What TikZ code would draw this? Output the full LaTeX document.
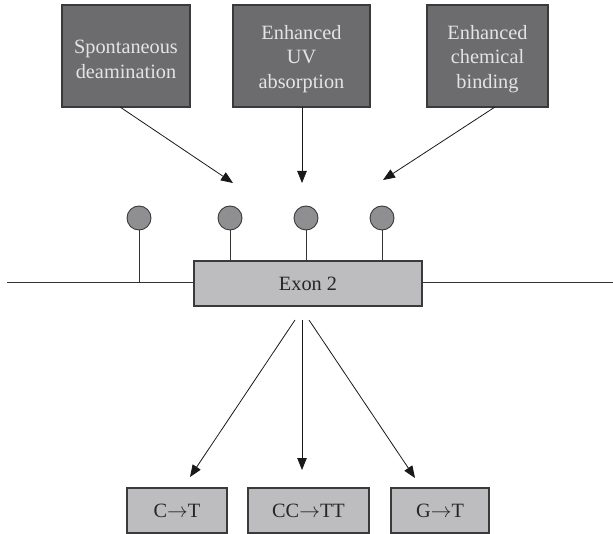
\documentclass[tikz,border=0pt]{standalone}
\usepackage{fontspec}
\setmainfont{Liberation Serif}
\usetikzlibrary{arrows.meta}
\definecolor{causefill}{HTML}{6C6C6F}
\definecolor{causetext}{HTML}{E4E4E4}
\definecolor{boxfill}{HTML}{BDBDBF}
\definecolor{edgegray}{HTML}{3A3A3C}
\definecolor{siteball}{HTML}{8F8F91}
\newcommand{\mutto}{\ensuremath{\rightarrow}}
\begin{document}
\begin{tikzpicture}[x=1pt,y=-1pt,
  every node/.style={font=\fontsize{20.3}{24.5}\selectfont, inner sep=0pt, outer sep=0pt},
  causebox/.style={draw=edgegray, line width=1.2pt, fill=causefill, minimum height=102pt},
  causetxt/.style={text=causetext, align=center},
  genebox/.style={draw=edgegray, line width=1.2pt, fill=boxfill, text=black!85,
    minimum height=45pt},
  site/.style={circle, draw=edgegray, line width=0.9pt, fill=siteball, minimum size=24pt},
  stem/.style={line width=0.9pt, draw=black!80},
  link/.style={line width=0.8pt, draw=black!90, -{Triangle[length=12pt,width=9.5pt]}}]
\useasboundingbox (0,0) rectangle (613,534);

% causes: box, then its label set a little below the centre
\node[causebox, minimum width=128pt] (spont) at (126,56) {};
\node[causebox, minimum width=137pt] (uv) at (301.5,56) {};
\node[causebox, minimum width=121pt] (chem) at (487.5,56) {};
\node[causetxt] (spontT) at ([yshift=-3.5pt]spont.center) {Spontaneous\\deamination};
\node[causetxt] (uvT) at ([yshift=-3pt]uv.center) {Enhanced\\UV\\absorption};
\node[causetxt] (chemT) at ([yshift=-3pt]chem.center) {Enhanced\\chemical\\binding};

% gene line and exon
\node[genebox, minimum width=228pt] (exon) at (308,283.5) {Exon 2};
\coordinate (lineL) at (7,282);
\coordinate (lineR) at (613,282);
\draw[stem] (lineL) -- (exon.west |- lineL);
\draw[stem] (exon.east |- lineR) -- (lineR);

% modified sites
\node[site] (s1) at (139,218) {};
\node[site] (s2) at (230,218) {};
\node[site] (s3) at (306,218) {};
\node[site] (s4) at (382,218) {};
\draw[stem] (s1.south) -- (s1.south |- lineL);
\draw[stem] (s2.south) -- (s2.south |- exon.north);
\draw[stem] (s3.south) -- (s3.south |- exon.north);
\draw[stem] (s4.south) -- (s4.south |- exon.north);

% arrows into the gene
\coordinate (t1) at (233,183);
\coordinate (t2) at (302,183);
\coordinate (t3) at (383,180);
\draw[link] (spont.south -| 120,0) -- (t1);
\draw[link] (uv.south -| 302,0) -- (t2);
\draw[link] (chem.south -| 495,0) -- (t3);

% mutations
\node[genebox, minimum width=100pt] (ct) at (177,510.5) {C\mutto T};
\node[genebox, minimum width=121pt] (cctt) at (308.5,510.5) {CC\mutto TT};
\node[genebox, minimum width=98pt] (gt) at (440,510.5) {G\mutto T};

\coordinate (o1) at (295,320);
\coordinate (o2) at (302,320);
\coordinate (o3) at (309,320);
\coordinate (m1) at (190,477);
\coordinate (m2) at (302,470);
\coordinate (m3) at (415,478);
\draw[link] (o1) -- (m1);
\draw[link] (o2) -- (m2);
\draw[link] (o3) -- (m3);
\end{tikzpicture}
\end{document}
